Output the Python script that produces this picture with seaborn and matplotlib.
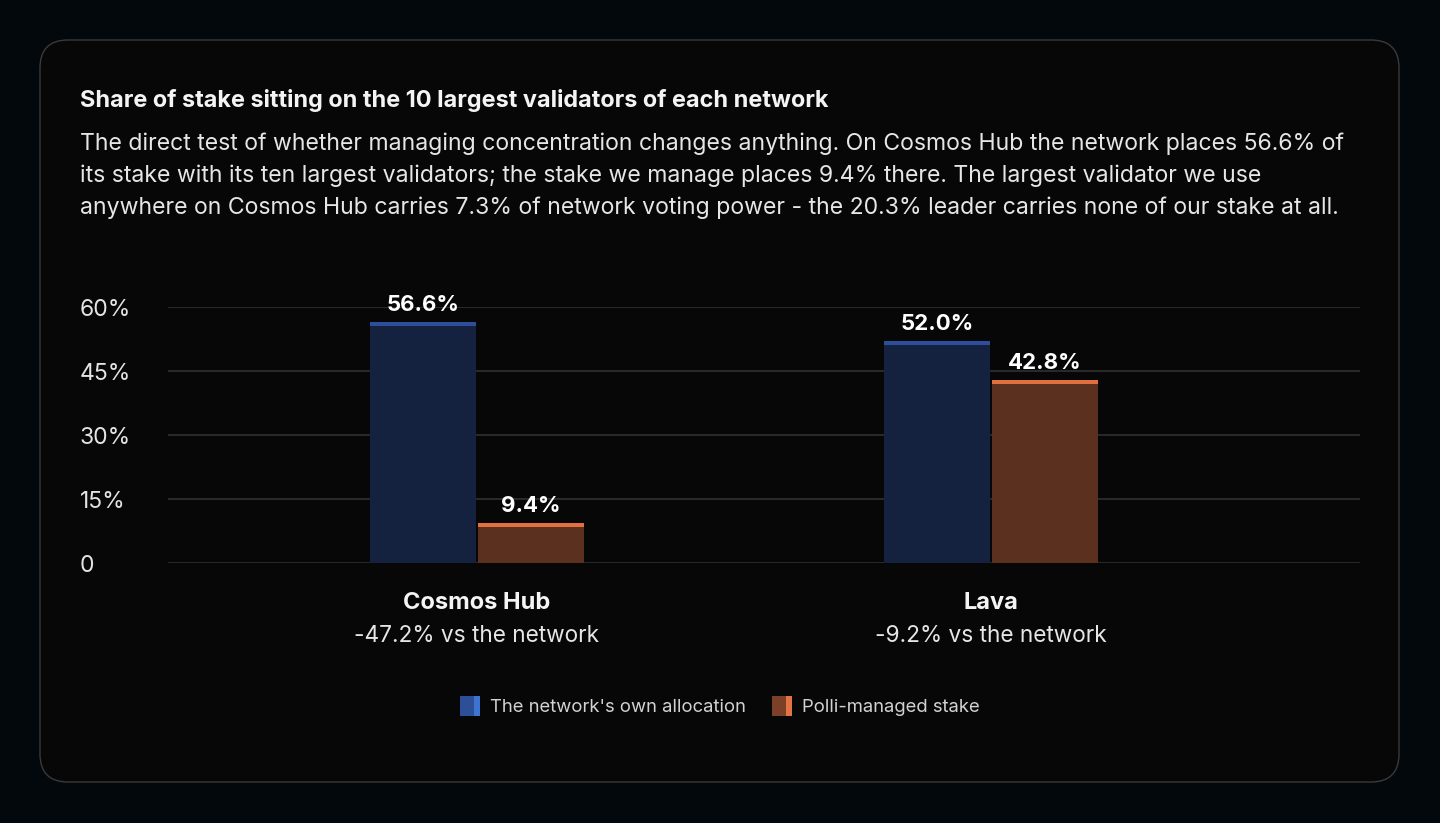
import pandas as pd
import matplotlib
matplotlib.use('Agg')
import matplotlib.pyplot as plt
import seaborn as sns
from matplotlib.patches import FancyBboxPatch, Rectangle, Patch
from matplotlib.legend_handler import HandlerBase

networks = ['Cosmos Hub', 'Lava']
network_share = [56.6, 52.0]
polli_share = [9.4, 42.8]
series = ["The network's own allocation", 'Polli-managed stake']
deltas = ['-47.2% vs the network', '-9.2% vs the network']
yticks = [0, 15, 30, 45, 60]
ytick_labels = ['0', '15%', '30%', '45%', '60%']

title = 'Share of stake sitting on the 10 largest validators of each network'
subtitle = [
    'The direct test of whether managing concentration changes anything. On Cosmos Hub the network places 56.6% of',
    'its stake with its ten largest validators; the stake we manage places 9.4% there. The largest validator we use',
    'anywhere on Cosmos Hub carries 7.3% of network voting power - the 20.3% leader carries none of our stake at all.',
]

df = pd.DataFrame({
    'network': networks * 2,
    'series': [series[0]] * 2 + [series[1]] * 2,
    'share': network_share + polli_share,
})

body = ['#14223f', '#5b301f']
cap = ['#2d4f9b', '#e0703f']
swatch_dark = ['#2c4f98', '#7a4028']
swatch_light = ['#3d74d2', '#e37340']

sns.set_style('dark')
plt.rcParams['font.family'] = ['Inter', 'DejaVu Sans']

W, H = 1440, 823
fig = plt.figure(figsize=(W / 100, H / 100), dpi=100, facecolor='#03080c')

# background + card, in pixel coordinates
bg = fig.add_axes([0, 0, 1, 1])
bg.set_xlim(0, W)
bg.set_ylim(H, 0)
bg.axis('off')
bg.set_facecolor('none')
card = FancyBboxPatch((40, 40), 1359, 742, boxstyle='round,pad=0,rounding_size=28',
                      facecolor='#070707', edgecolor='#3a3a3a', lw=1)
bg.add_patch(card)
bg.text(80, 100, title, fontsize=16.9, fontweight='bold', color='#f4f4f4', va='center')
for i, line in enumerate(subtitle):
    bg.text(80, 144 + 32 * i, line, fontsize=16.6, color='#e6e6e6', va='center')

ax = fig.add_axes([168 / W, 1 - 563 / H, 1192 / W, 256 / H])
ax.set_facecolor('none')
sns.barplot(data=df, x='network', y='share', hue='series', hue_order=series,
            palette=body, saturation=1, width=0.42, gap=0.02, legend=False,
            linewidth=0, ax=ax)

ax.set_xlim(-0.601, 1.718)
ax.set_ylim(0, 60)
cap_h = 4 * 60 / 256
for k, cont in enumerate(ax.containers):
    for bar in cont:
        bar.set_edgecolor('none')
        ax.add_patch(Rectangle((bar.get_x(), bar.get_height() - cap_h), bar.get_width(), cap_h,
                               facecolor=cap[k], lw=0))
    ax.bar_label(cont, labels=[f'{v:.1f}%' for v in cont.datavalues], padding=5,
                 fontsize=16, fontweight='bold', color='white')

ax.set_yticks(yticks)
ax.set_yticklabels(ytick_labels)
ax.tick_params(axis='y', length=0, pad=63.4, labelsize=16.5, labelcolor='#e4e4e4')
for lbl in ax.get_yticklabels():
    lbl.set_ha('left')
ax.set_xticks([])
ax.set_xlabel('')
ax.set_ylabel('')
ax.yaxis.grid(True, color='#2a2a2a', lw=1.4)
ax.xaxis.grid(False)
ax.set_axisbelow(True)
for s in ax.spines.values():
    s.set_visible(False)

for i, (name, d) in enumerate(zip(networks, deltas)):
    ax.annotate(name, xy=(i, 0), xytext=(0, -40), textcoords='offset pixels',
                ha='center', va='center', fontsize=17, fontweight='bold', color='#f4f4f4',
                annotation_clip=False)
    ax.annotate(d, xy=(i, 0), xytext=(0, -73), textcoords='offset pixels',
                ha='center', va='center', fontsize=16.3, color='#e6e6e6',
                annotation_clip=False)


class TwoTone(HandlerBase):
    def create_artists(self, legend, handle, xd, yd, width, height, fontsize, trans):
        split = width * 0.7
        left = Rectangle((-xd, -yd - 1), split, height + 2, facecolor=handle.get_facecolor(),
                         lw=0, transform=trans)
        right = Rectangle((-xd + split, -yd - 1), width - split, height + 2,
                          facecolor=handle.get_edgecolor(), lw=0, transform=trans)
        return [left, right]


handles = [Patch(facecolor=swatch_dark[k], edgecolor=swatch_light[k], label=series[k]) for k in range(2)]
fig.legend(handles=handles, loc='center', bbox_to_anchor=(0.5, 1 - 707 / H), ncol=2,
           frameon=False, fontsize=13.3, labelcolor='#d2d2d2', handlelength=1.1,
           handleheight=1.0, handletextpad=0.55, columnspacing=1.4,
           handler_map={Patch: TwoTone()})

fig.savefig('out.png', dpi=100, facecolor=fig.get_facecolor())
